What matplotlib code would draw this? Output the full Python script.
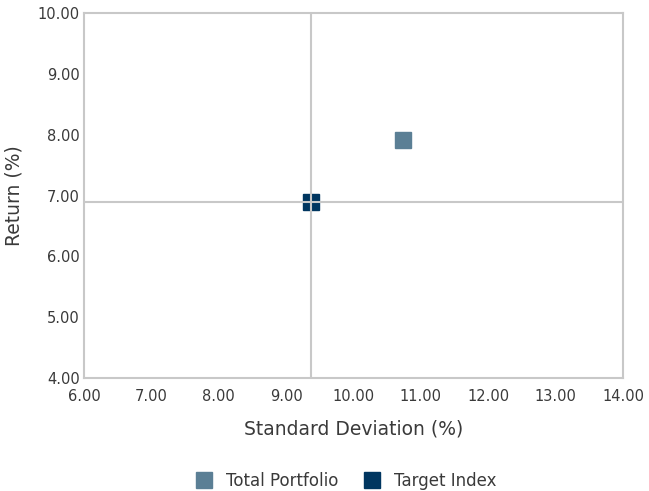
import matplotlib
matplotlib.use("Agg")
import matplotlib.pyplot as plt
from matplotlib.lines import Line2D

plt.rcParams['font.family'] = ['DejaVu Sans']

# data
series_names = ["Total Portfolio", "Target Index"]
std_dev = [10.73, 9.37]
returns = [7.91, 6.89]
colors = ["#5b7f95", "#003660"]

x_ticks = [6, 7, 8, 9, 10, 11, 12, 13, 14]
y_ticks = [4, 5, 6, 7, 8, 9, 10]

grey = "#c8c8c8"
text_col = "#3a3a3a"

fig = plt.figure(figsize=(6.49, 4.91), dpi=100)
ax = fig.add_axes([84 / 649, 1 - 378 / 491, (623 - 84) / 649, (378 - 13) / 491])

for name, x, y, c in zip(series_names, std_dev, returns, colors):
    ax.plot([x], [y], marker="s", markersize=11.5, color=c, linestyle="none",
            zorder=2, label=name)

# crosshair through the index point
ax.axvline(std_dev[1], color=grey, linewidth=1.5, zorder=3)
ax.axhline(returns[1], color=grey, linewidth=1.5, zorder=3)

ax.set_xlim(x_ticks[0], x_ticks[-1])
ax.set_ylim(y_ticks[0], y_ticks[-1])
ax.set_xticks(x_ticks)
ax.set_yticks(y_ticks)
ax.set_xticklabels(["%.2f" % v for v in x_ticks])
ax.set_yticklabels(["%.2f" % v for v in y_ticks])
ax.tick_params(length=0, labelsize=10.5, colors=text_col, pad=3)
ax.tick_params(axis="x", pad=8)

for s in ax.spines.values():
    s.set_color(grey)
    s.set_linewidth(1.5)

ax.set_xlabel("Standard Deviation (%)", fontsize=13.5, color=text_col, labelpad=11)
ax.set_ylabel("Return (%)", fontsize=13.5, color=text_col, labelpad=10)

handles = [Line2D([], [], marker="s", markersize=11.5, color=c, linestyle="none")
           for c in colors]
fig.legend(handles, series_names, loc="center", bbox_to_anchor=(0.527, 1 - 481 / 491),
           ncol=2, frameon=False, fontsize=12, handletextpad=0.35,
           columnspacing=1.0, labelcolor=text_col)

fig.savefig("out.png", dpi=100)
